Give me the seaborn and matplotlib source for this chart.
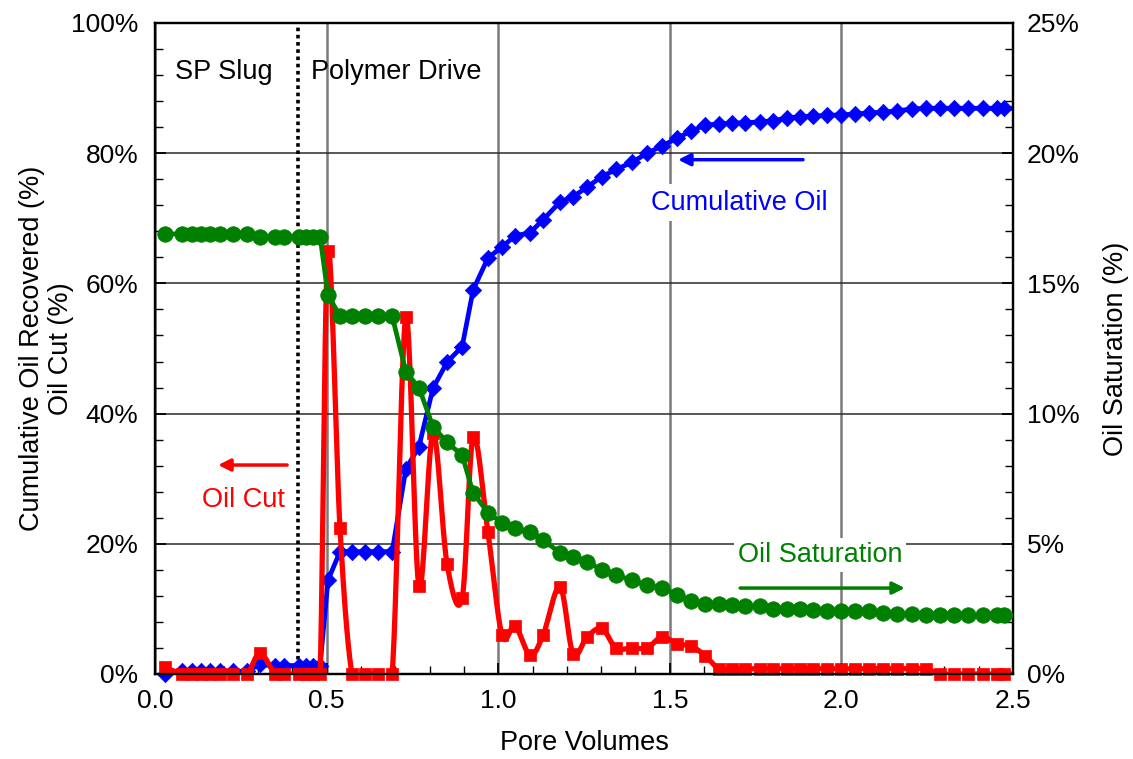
import numpy as np
import matplotlib
matplotlib.use("Agg")
import matplotlib.pyplot as plt
import seaborn as sns
from matplotlib.ticker import MultipleLocator, FuncFormatter

# ---------------- data ----------------
pore_volumes = [0.029, 0.079, 0.108, 0.134, 0.160, 0.189, 0.227, 0.268, 0.306, 0.350,
                0.376, 0.420, 0.440, 0.460, 0.481,
                0.504, 0.539, 0.574, 0.612, 0.650, 0.691, 0.731, 0.769, 0.810, 0.851,
                0.895, 0.927, 0.970,
                1.011, 1.049, 1.093, 1.131, 1.180, 1.218, 1.259, 1.302, 1.343, 1.390,
                1.434, 1.477, 1.521, 1.562, 1.603, 1.643,
                1.681, 1.719, 1.763, 1.801, 1.841, 1.879, 1.917, 1.958, 1.999,
                2.040, 2.080, 2.121, 2.162, 2.206, 2.247, 2.287, 2.328, 2.369, 2.413,
                2.453, 2.474, 2.520]

cumulative_oil = [0.0, 0.4, 0.4, 0.4, 0.4, 0.4, 0.4, 0.4, 1.5, 1.2,
                  1.3, 1.3, 1.3, 1.3, 1.3,
                  14.4, 18.8, 18.8, 18.8, 18.8, 18.8, 31.5, 34.9, 43.9, 47.9,
                  50.3, 59.0, 63.9,
                  65.6, 67.3, 67.8, 69.8, 72.5, 73.3, 74.8, 76.4, 77.5, 78.6,
                  80.0, 81.1, 82.3, 83.4, 84.3, 84.5,
                  84.6, 84.7, 84.8, 85.0, 85.4, 85.6, 85.7, 85.8, 85.9,
                  86.0, 86.2, 86.3, 86.5, 86.8, 86.9, 86.9, 86.9, 86.9, 86.9,
                  86.9, 86.9, 86.9]

oil_cut = [1.0, 0, 0, 0, 0, 0, 0, 0, 3.2, 0,
           0, 0, 0, 0, 0,
           65.0, 22.4, 0, 0, 0, 0, 54.8, 13.5, 37.0, 16.9,
           11.7, 36.4, 21.8,
           6.0, 7.4, 2.9, 6.0, 13.4, 3.1, 5.7, 7.0, 4.0, 4.0,
           4.0, 5.7, 4.6, 4.3, 2.8, 0.8,
           0.8, 0.8, 0.8, 0.8, 0.8, 0.8, 0.8, 0.8, 0.8,
           0.8, 0.8, 0.8, 0.8, 0.8, 0.8, 0, 0, 0, 0,
           0, 0, 0]

oil_saturation = [16.9, 16.9, 16.9, 16.9, 16.9, 16.9, 16.9, 16.9, 16.8, 16.8,
                  16.8, 16.8, 16.8, 16.8, 16.8,
                  14.55, 13.75, 13.75, 13.75, 13.75, 13.75, 11.6, 11.0, 9.5, 8.9,
                  8.4, 6.95, 6.2,
                  5.8, 5.6, 5.45, 5.15, 4.65, 4.5, 4.3, 4.0, 3.8, 3.6,
                  3.4, 3.3, 3.05, 2.8, 2.7, 2.7,
                  2.65, 2.6, 2.6, 2.5, 2.5, 2.5, 2.45, 2.4, 2.4,
                  2.4, 2.4, 2.35, 2.3, 2.3, 2.25, 2.25, 2.25, 2.25, 2.25,
                  2.25, 2.25, 2.25]

x_ticks = [0.0, 0.5, 1.0, 1.5, 2.0, 2.5]
left_ticks = [0, 20, 40, 60, 80, 100]
right_ticks = [0, 5, 10, 15, 20, 25]

# ---------------- style ----------------
sns.set_style("ticks")
plt.rcParams['font.family'] = ['Liberation Sans', 'DejaVu Sans']
plt.rcParams['text.color'] = 'black'
plt.rcParams['axes.labelcolor'] = 'black'
plt.rcParams['xtick.color'] = 'black'
plt.rcParams['ytick.color'] = 'black'
plt.rcParams['xtick.labelcolor'] = 'black'
plt.rcParams['ytick.labelcolor'] = 'black'

BLUE = '#0000FF'
RED = '#FF0000'
GREEN = '#008000'

fig = plt.figure(figsize=(11.33, 7.59), dpi=100)
ax = fig.add_axes([0.1368, 0.1120, 0.7573, 0.8577])
ax2 = ax.twinx()

x = np.asarray(pore_volumes, float)
cum = np.asarray(cumulative_oil, float)
cut = np.asarray(oil_cut, float)
sat = np.asarray(oil_saturation, float)
vis = x <= 2.5


def smooth_path(xs, ys, sx=343.2, sy=6.51, n=24):
    """Excel-like smoothed line (Catmull-Rom Bezier) in screen-scaled space."""
    P = np.column_stack([xs * sx, ys * sy])
    Pp = np.vstack([P[0], P, P[-1]])
    t = np.linspace(0, 1, n)[:, None]
    out = []
    for i in range(len(P) - 1):
        p0, p1, p2, p3 = Pp[i], Pp[i + 1], Pp[i + 2], Pp[i + 3]
        c1 = p1 + (p2 - p0) / 6.0
        c2 = p2 - (p3 - p1) / 6.0
        seg = ((1 - t) ** 3) * p1 + 3 * ((1 - t) ** 2) * t * c1 + 3 * (1 - t) * t ** 2 * c2 + t ** 3 * p2
        out.append(seg if i == 0 else seg[1:])
    S = np.vstack(out)
    return S[:, 0] / sx, S[:, 1] / sy


# cumulative oil (blue)
sns.lineplot(x=x, y=cum, ax=ax, color=BLUE, lw=3.4, estimator=None, sort=False, zorder=3)
sns.scatterplot(x=x[vis], y=cum[vis], ax=ax, marker='D', s=70, color=BLUE,
                edgecolor=BLUE, linewidth=0.5, clip_on=False, zorder=3.1)

# oil cut (red, smoothed)
rx, ry = smooth_path(x, cut)
sns.lineplot(x=rx, y=ry, ax=ax, color=RED, lw=3.8, estimator=None, sort=False, zorder=4)
sns.scatterplot(x=x[vis], y=cut[vis], ax=ax, marker='s', s=85, color=RED,
                edgecolor=RED, linewidth=0.5, clip_on=False, zorder=4.1)

# oil saturation (green, right axis)
sns.lineplot(x=x, y=sat, ax=ax2, color=GREEN, lw=3.4, estimator=None, sort=False, zorder=3)
sns.scatterplot(x=x[vis], y=sat[vis], ax=ax2, marker='o', s=125, color=GREEN,
                edgecolor=GREEN, linewidth=0.5, clip_on=False, zorder=3.1)

# ---------------- axes ----------------
ax.set_xlim(0, 2.5)
ax.set_ylim(0, 100)
ax2.set_ylim(0, 25)

ax.set_xticks(x_ticks)
ax.xaxis.set_minor_locator(MultipleLocator(0.1))
ax.set_xticklabels([f"{v:.1f}" for v in x_ticks])
ax.set_yticks(left_ticks)
ax.yaxis.set_minor_locator(MultipleLocator(4))
ax.yaxis.set_major_formatter(FuncFormatter(lambda v, p: f"{v:.0f}%"))
ax2.set_yticks(right_ticks)
ax2.yaxis.set_minor_locator(MultipleLocator(1))
ax2.yaxis.set_major_formatter(FuncFormatter(lambda v, p: f"{v:.0f}%"))

ax.tick_params(axis='both', which='both', direction='in', labelsize=19, color='black',
               labelcolor='black')
ax.tick_params(axis='x', which='major', length=8, width=1.3, pad=11)
ax.tick_params(axis='x', which='minor', length=6, width=1.0)
ax.tick_params(axis='y', which='major', length=8, width=1.3, pad=12, left=True, right=False)
ax.tick_params(axis='y', which='minor', length=6, width=1.0, left=True, right=False)
ax2.tick_params(axis='y', which='both', direction='in', labelsize=19, left=False, right=True,
                color='black', labelcolor='black')
ax2.tick_params(axis='y', which='major', length=8, width=1.3, pad=10)
ax2.tick_params(axis='y', which='minor', length=6, width=1.0)

ax.set_axisbelow(True)
ax.grid(axis='x', which='major', color='#7a7a7a', lw=1.8)
ax.grid(axis='y', which='major', color='#2a2a2a', lw=1.1)
ax.grid(which='minor', visible=False)
ax2.grid(False)

for a in (ax, ax2):
    for sp in a.spines.values():
        sp.set_visible(True)
        sp.set_color('black')
        sp.set_linewidth(1.6)

ax.set_xlabel("Pore Volumes", fontsize=19.5, labelpad=12, color='black')
ax.set_ylabel("Cumulative Oil Recovered (%)\nOil Cut (%)", fontsize=19.5,
              labelpad=-2, linespacing=1.15, color='black')
ax2.set_ylabel("Oil Saturation (%)", fontsize=19.5, labelpad=17, rotation=90, color='black')

# ---------------- annotations ----------------
ax.axvline(0.417, color='black', lw=2.6, ls=(0, (1, 1.0)), dash_capstyle='butt', zorder=2.5)

ax.text(0.201, 92.5, "SP Slug", fontsize=19.5, ha='center', va='center', zorder=5)
ax.text(0.704, 92.5, "Polymer Drive", fontsize=19.5, ha='center', va='center', zorder=5)

ax.annotate("", xy=(0.184, 32.1), xytext=(0.385, 32.1),
            arrowprops=dict(arrowstyle='-|>', color=RED, lw=2.5, mutation_scale=18,
                            shrinkA=0, shrinkB=0), zorder=5)
ax.text(0.259, 26.7, "Oil Cut", fontsize=19.5, color=RED, ha='center', va='center', zorder=5)

ax.annotate("", xy=(1.524, 79.0), xytext=(1.888, 79.0),
            arrowprops=dict(arrowstyle='-|>', color=BLUE, lw=2.5, mutation_scale=18,
                            shrinkA=0, shrinkB=0), zorder=5)
ax.text(1.702, 72.4, "Cumulative Oil", fontsize=19.5, color=BLUE, ha='center', va='center',
        zorder=5, bbox=dict(boxstyle='square,pad=0.2', fc='white', ec='none'))

ax.annotate("", xy=(2.185, 13.2), xytext=(1.705, 13.2),
            arrowprops=dict(arrowstyle='-|>', color=GREEN, lw=2.5, mutation_scale=18,
                            shrinkA=0, shrinkB=0), zorder=5)
ax.text(1.938, 18.3, "Oil Saturation", fontsize=19.5, color=GREEN, ha='center', va='center',
        zorder=5, bbox=dict(boxstyle='square,pad=0.15', fc='white', ec='none'))

fig.savefig("out.png", dpi=100, facecolor='white')
